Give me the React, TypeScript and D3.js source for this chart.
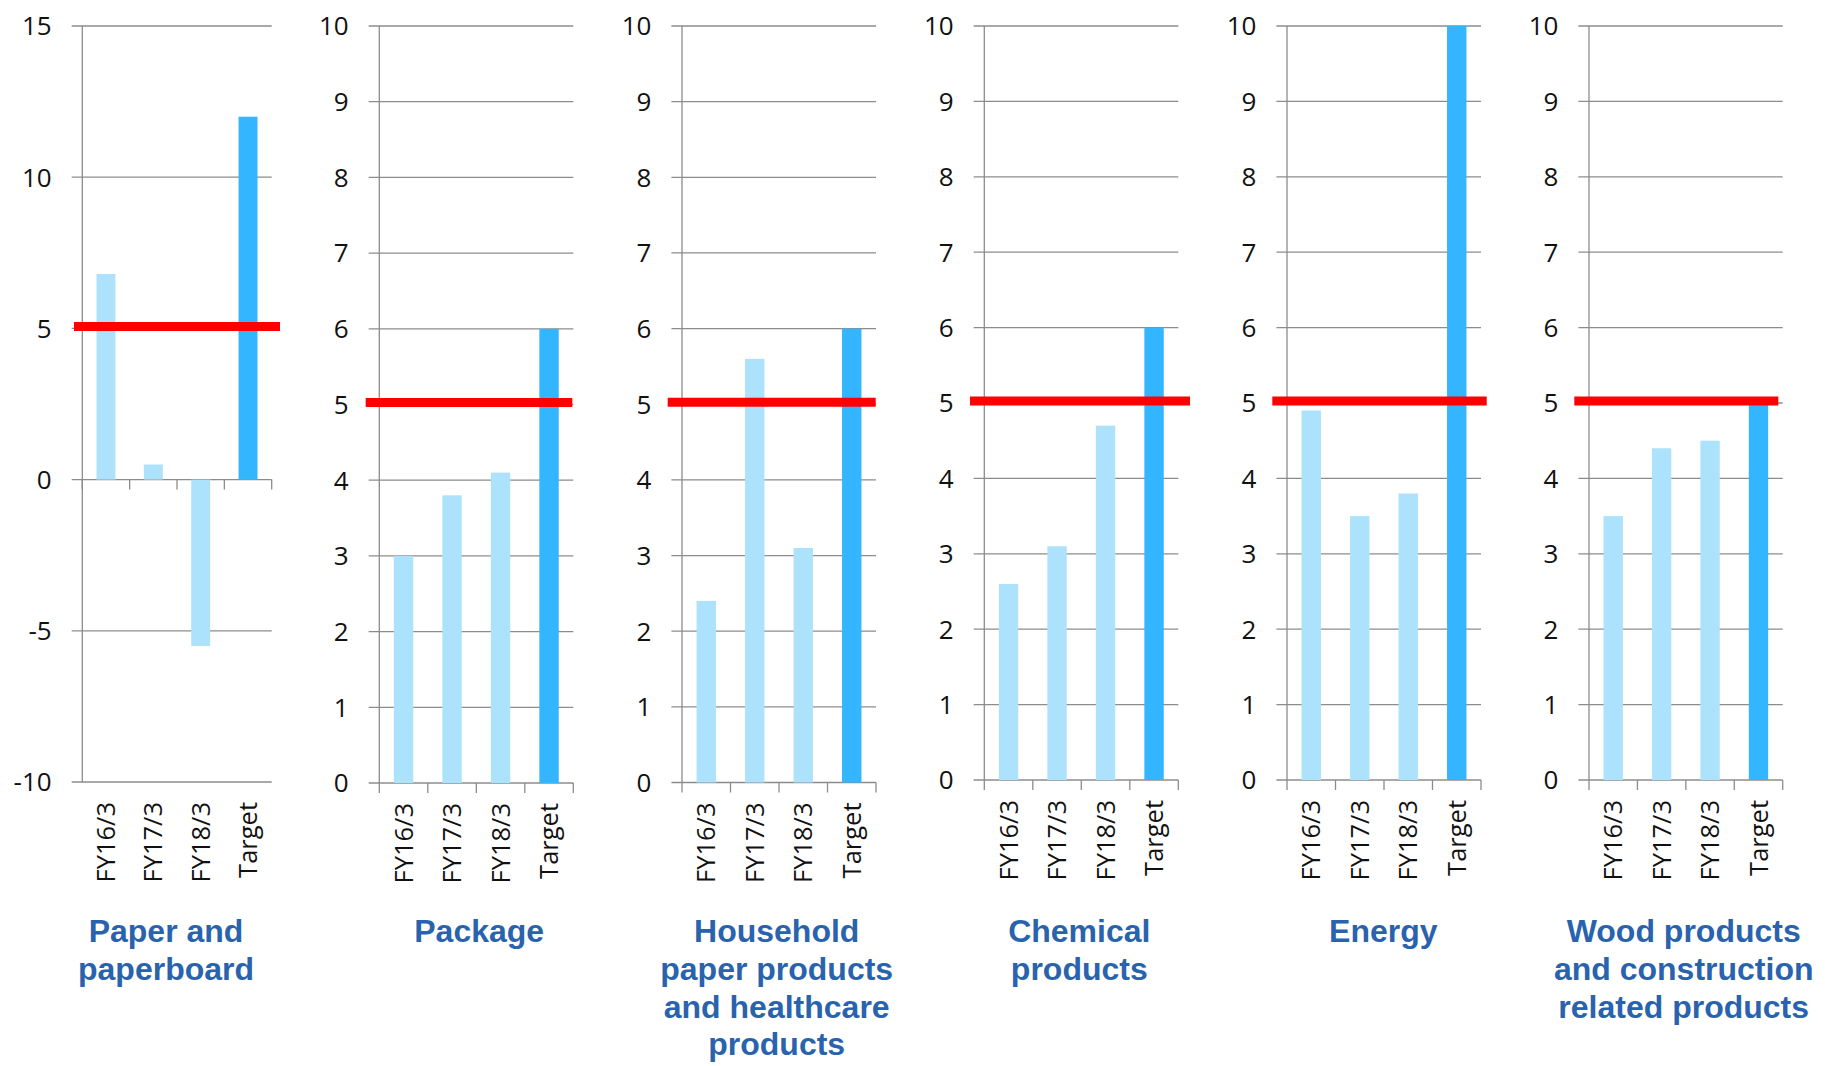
import React from "react";
import * as d3 from "d3";

const categories = ["FY16/3", "FY17/3", "FY18/3", "Target"];

const panelTitles = [
  ["Paper and", "paperboard"],
  ["Package"],
  ["Household", "paper products", "and healthcare", "products"],
  ["Chemical", "products"],
  ["Energy"],
  ["Wood products", "and construction", "related products"],
];

const paperValues = [6.8, 0.5, -5.5, 12];
const packageValues = [3.0, 3.8, 4.1, 6.0];
const householdValues = [2.4, 5.6, 3.1, 6.0];
const chemicalValues = [2.6, 3.1, 4.7, 6.0];
const energyValues = [4.9, 3.5, 3.8, 10];
const woodValues = [3.5, 4.4, 4.5, 5.0];

const seriesValues = [paperValues, packageValues, householdValues, chemicalValues, energyValues, woodValues];

const yDomains = [
  [-10, 15],
  [0, 10],
  [0, 10],
  [0, 10],
  [0, 10],
  [0, 10],
];
const yTicks = [
  [-10, -5, 0, 5, 10, 15],
  [0, 1, 2, 3, 4, 5, 6, 7, 8, 9, 10],
  [0, 1, 2, 3, 4, 5, 6, 7, 8, 9, 10],
  [0, 1, 2, 3, 4, 5, 6, 7, 8, 9, 10],
  [0, 1, 2, 3, 4, 5, 6, 7, 8, 9, 10],
  [0, 1, 2, 3, 4, 5, 6, 7, 8, 9, 10],
];
const thresholdValue = 5;

// layout (positions only)
const layout = [
  { x0: 82.3, x1: 271.7, yTop: 26, yBot: 782, redL: -8.3, redR: 8.3, titleX: 166 },
  { x0: 379.3, x1: 573.3, yTop: 26, yBot: 783, redL: -13.6, redR: -1, titleX: 479.2 },
  { x0: 682, x1: 876, yTop: 26, yBot: 782.5, redL: -14.3, redR: -0.3, titleX: 776.7 },
  { x0: 984.3, x1: 1178.3, yTop: 26, yBot: 780, redL: -14.3, redR: 11.7, titleX: 1079.3 },
  { x0: 1287, x1: 1481, yTop: 26, yBot: 780, redL: -14.7, redR: 5.7, titleX: 1383.3 },
  { x0: 1589, x1: 1782.7, yTop: 26, yBot: 780, redL: -14.7, redR: -4.4, titleX: 1683.7 },
];

const GRID = "#8c8c8c";
const LIGHT = "#ade2fd";
const DARK = "#33b5ff";
const RED = "#ff0000";
const TITLE = "#2a63ad";
const TEXT = "#111111";
const TICK_FONT = "'Open Sans', 'Noto Sans', sans-serif";
const TITLE_FONT = "'Liberation Sans', Arial, sans-serif";

function Panel({ idx }: { idx: number }) {
  const L = layout[idx];
  const values = seriesValues[idx];
  const x = d3.scaleBand<string>().domain(categories).range([L.x0, L.x1]).paddingInner(0.6).paddingOuter(0.3);
  const y = d3.scaleLinear().domain(yDomains[idx]).range([L.yBot, L.yTop]);
  const step = x.step();
  const y0 = y(0);
  const boundaries = d3.range(categories.length + 1).map((i) => L.x0 + i * step);
  return (
    <g>
      {yTicks[idx].map((t) => (
        <g key={t}>
          <line x1={L.x0 - 10.6} x2={L.x1} y1={y(t)} y2={y(t)} stroke={GRID} strokeWidth={1.3} />
          <text
            x={L.x0 - 30.6}
            y={y(t)}
            dy="0.36em"
            textAnchor="end"
            fontFamily={TICK_FONT}
            fontSize={26}
            fill={TEXT}
          >
            {t}
          </text>
        </g>
      ))}
      <line x1={L.x0} x2={L.x0} y1={L.yTop} y2={L.yBot} stroke={GRID} strokeWidth={1.3} />
      {boundaries.map((bx, i) => (
        <line key={i} x1={bx} x2={bx} y1={y0} y2={y0 + 10} stroke={GRID} strokeWidth={1.3} />
      ))}
      {categories.map((c, i) => {
        const v = values[i];
        return (
          <rect
            key={c}
            x={x(c)}
            width={x.bandwidth()}
            y={Math.min(y(v), y0)}
            height={Math.abs(y(v) - y0)}
            fill={c === "Target" ? DARK : LIGHT}
          />
        );
      })}
      <line
        x1={L.x0 + L.redL}
        x2={L.x1 + L.redR}
        y1={y(thresholdValue) - 2}
        y2={y(thresholdValue) - 2}
        stroke={RED}
        strokeWidth={9}
      />
      {categories.map((c) => {
        const cx = (x(c) as number) + x.bandwidth() / 2;
        const ty = L.yBot + 20;
        return (
          <text
            key={c}
            x={cx}
            y={ty}
            dy="0.36em"
            textAnchor="end"
            transform={`rotate(-90, ${cx}, ${ty})`}
            fontFamily={TICK_FONT}
            fontSize={25.5}
            fill={TEXT}
          >
            {c}
          </text>
        );
      })}
      <text textAnchor="middle" fontFamily={TITLE_FONT} fontWeight="bold" fontSize={32} fill={TITLE}>
        {panelTitles[idx].map((line, i) => (
          <tspan key={i} x={L.titleX} y={942 + i * 37.8}>
            {line}
          </tspan>
        ))}
      </text>
    </g>
  );
}

export default function App() {
  return (
    <div style={{ position: "absolute", left: 0, top: 0 }}>
      <svg width={1825} height={1066} style={{ display: "block", background: "#ffffff" }}>
        {layout.map((_, i) => (
          <Panel key={i} idx={i} />
        ))}
      </svg>
    </div>
  );
}
